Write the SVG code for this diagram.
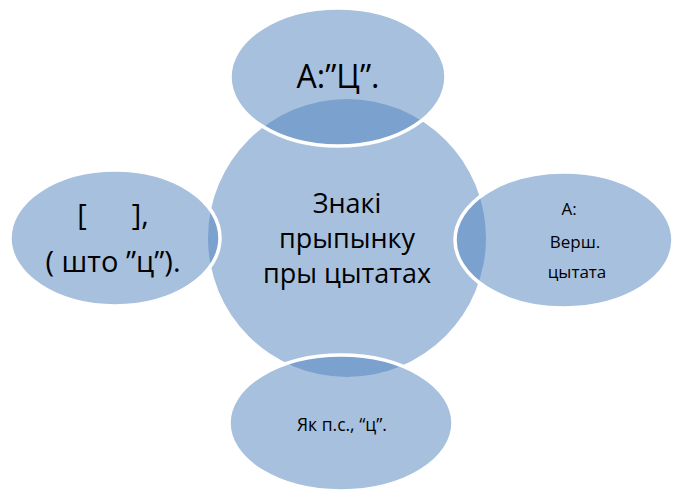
<svg xmlns="http://www.w3.org/2000/svg" width="675" height="491" viewBox="0 0 675 491">
<style>
.c{fill:#4F81BD;fill-opacity:0.5;}
.s{fill:#4F81BD;fill-opacity:0.5;stroke:#FFFFFF;stroke-width:3.5;}
text{font-family:"Open Sans","Noto Sans","Liberation Sans",sans-serif;fill:#000;text-anchor:middle;}
.big{font-size:27px;}
.top{font-size:32px;}
.mid{font-size:29px;}
.sm{font-size:17px;}
.bt{font-size:17.5px;}
</style>
<rect width="675" height="491" fill="#FFFFFF"/>
<g id="connectors"/>
<g id="center">
<circle class="c" cx="347" cy="238" r="139"/>
<text class="big" x="347" y="213">Знакі</text>
<text class="big" x="347" y="248">прыпынку</text>
<text class="big" x="347" y="283">пры цытатах</text>
</g>
<g id="top">
<ellipse class="s" cx="338" cy="77" rx="108" ry="69"/>
<text class="top" x="338" y="88">А:”Ц”.</text>
</g>
<g id="right">
<ellipse class="s" cx="564" cy="240" rx="109" ry="68"/>
<text class="sm" x="569" y="215">А:</text>
<text class="sm" x="575" y="248">Верш.</text>
<text class="sm" x="577" y="278">цытата</text>
</g>
<g id="bottom">
<ellipse class="s" cx="341" cy="423" rx="112" ry="68"/>
<text class="bt" x="342" y="431">Як п.с., “ц”.</text>
</g>
<g id="left">
<ellipse class="s" cx="115" cy="238" rx="105" ry="68"/>
<text class="mid" x="113" y="225" xml:space="preserve">[      ],</text>
<text class="mid" x="113" y="272">( што ”ц”).</text>
</g>
</svg>
